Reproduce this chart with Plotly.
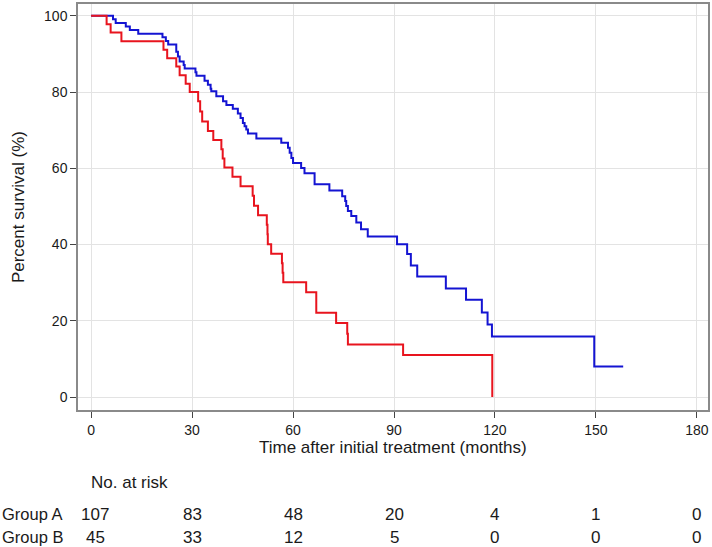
import plotly.graph_objects as go

# Kaplan-Meier step data (months, percent survival)
group_a_time = [0, 6.5, 7.3, 10.3, 11.5, 14.0, 21.2, 22.2, 22.9, 25.3, 25.8, 26.3, 27.5, 27.8,
                31.0, 31.3, 33.7, 34.7, 35.5, 35.7, 37.2, 39.2, 40.2, 42.1, 43.6, 44.4, 45.1,
                45.6, 46.1, 46.6, 49.1, 56.5, 58.5, 59.0, 59.5, 60.0, 62.4, 63.4, 66.4, 70.8,
                74.6, 75.5, 75.8, 76.3, 77.3, 78.8, 80.2, 82.2, 90.9, 93.9, 95.0, 96.9, 105.4,
                111.4, 116.1, 117.8, 119.1, 149.5, 158.1]
group_a_surv = [100, 99.1, 98.1, 97.2, 96.3, 95.3, 94.4, 93.4, 92.5, 90.6, 89.3, 88.0, 87.1, 86.2,
                85.2, 84.3, 83.0, 81.9, 80.9, 80.2, 78.9, 77.6, 76.6, 75.6, 74.4, 73.2, 71.9,
                71.0, 70.2, 69.1, 67.8, 66.7, 65.4, 64.1, 62.7, 61.4, 60.1, 58.7, 55.8, 54.2,
                52.7, 51.4, 50.1, 48.8, 47.5, 45.8, 44.0, 42.1, 40.1, 37.5, 34.5, 31.6, 28.5,
                25.5, 22.2, 19.0, 15.9, 8.0, 8.0]

group_b_time = [0, 4.6, 5.8, 9.0, 21.5, 22.6, 25.3, 26.3, 28.1, 29.3, 31.8, 32.4, 33.0, 34.7,
                36.3, 38.7, 39.1, 39.6, 42.0, 44.4, 48.0, 48.4, 49.6, 52.2, 52.4, 52.5, 53.5,
                56.7, 56.9, 57.1, 63.9, 66.9, 72.8, 76.1, 76.3, 92.7, 119.2]
group_b_surv = [100, 97.8, 95.6, 93.3, 91.1, 88.9, 86.7, 84.4, 82.2, 80.0, 77.6, 74.9, 72.3, 69.8,
                67.4, 65.0, 62.6, 60.2, 57.8, 55.3, 52.8, 50.2, 47.7, 45.2, 42.7, 40.1, 37.6,
                35.1, 32.6, 30.1, 27.5, 22.1, 19.4, 16.6, 13.8, 11.0, 0]

# Number-at-risk table
risk_times = [0, 30, 60, 90, 120, 150, 180]
risk_group_a = [107, 83, 48, 20, 4, 1, 0]
risk_group_b = [45, 33, 12, 5, 0, 0, 0]
group_labels = ["Group A", "Group B"]

x_ticks = [0, 30, 60, 90, 120, 150, 180]
y_ticks = [0, 20, 40, 60, 80, 100]

FONT = "Liberation Sans, Arial, sans-serif"
TXT = "#1a1a1a"

fig = go.Figure()
fig.add_trace(go.Scatter(x=group_a_time, y=group_a_surv, mode="lines", line_shape="hv",
                         line=dict(color="#1414d2", width=2), name=group_labels[0],
                         showlegend=False))
fig.add_trace(go.Scatter(x=group_b_time, y=group_b_surv, mode="lines", line_shape="hv",
                         line=dict(color="#e8141e", width=2), name=group_labels[1],
                         showlegend=False))

L, R, T, B = 78, 3, 2, 137
W, H = 712, 547
pw, ph = W - L - R, H - T - B

def px_y(y):
    return (H - B - y) / ph

def px_x(x):
    return (x - L) / pw

ann = []
ann.append(dict(text="Time after initial treatment (months)", xref="paper", yref="paper",
                x=px_x(393), y=px_y(448), xanchor="center", yanchor="middle",
                showarrow=False, font=dict(size=17, color=TXT, family=FONT)))
ann.append(dict(text="Percent survival (%)", xref="paper", yref="paper",
                x=px_x(18), y=0.5, xanchor="center", yanchor="middle", textangle=-90,
                showarrow=False, font=dict(size=17, color=TXT, family=FONT)))
ann.append(dict(text="No. at risk", xref="paper", yref="paper",
                x=px_x(89), y=px_y(483), xanchor="left", yanchor="middle",
                showarrow=False, font=dict(size=17, color=TXT, family=FONT)))
for label, vals, ypx in [(group_labels[0], risk_group_a, 515), (group_labels[1], risk_group_b, 538)]:
    ann.append(dict(text=label, xref="paper", yref="paper", x=px_x(0), y=px_y(ypx),
                    xanchor="left", yanchor="middle", showarrow=False,
                    font=dict(size=16.5, color=TXT, family=FONT)))
    for i, (t, v) in enumerate(zip(risk_times, vals)):
        ann.append(dict(text=str(v), xref="x", yref="paper", x=t, y=px_y(ypx),
                        xanchor="center", yanchor="middle", showarrow=False,
                        xshift=4 if i == 0 else 0,
                        font=dict(size=17, color=TXT, family=FONT)))

fig.update_layout(
    width=W, height=H,
    margin=dict(l=L, r=R, t=T, b=B),
    paper_bgcolor="white", plot_bgcolor="white",
    font=dict(family=FONT, color=TXT, size=14),
    annotations=ann,
    xaxis=dict(range=[-3.9, 183.3], tickvals=x_ticks, ticks="outside", ticklen=6,
               tickcolor="#444", showgrid=True, gridcolor="#e3e3e3", gridwidth=1,
               showline=True, linecolor="#8a8a8a", linewidth=1.5, mirror=True,
               zeroline=False, tickfont=dict(size=14, color=TXT, family=FONT)),
    yaxis=dict(range=[-3.4, 103.1], tickvals=y_ticks, ticks="outside", ticklen=6,
               tickcolor="#444", showgrid=True, gridcolor="#e3e3e3", gridwidth=1,
               showline=True, linecolor="#8a8a8a", linewidth=1.5, mirror=True,
               zeroline=False, tickfont=dict(size=14, color=TXT, family=FONT)),
)

fig.write_html("out.html", config={"displayModeBar": False},
               post_script="document.body.style.margin='0';document.body.style.overflow='hidden';")
